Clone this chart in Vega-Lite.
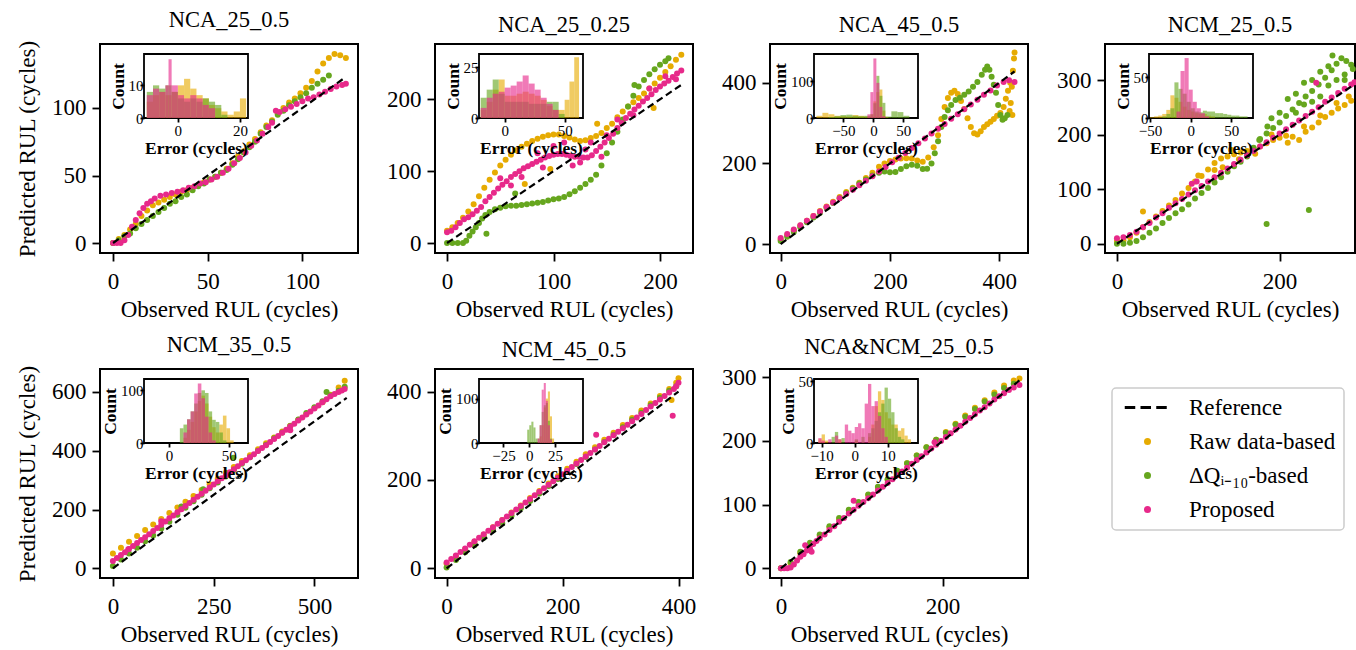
{
"$schema":"https://vega.github.io/schema/vega-lite/v6.json",
"background":"white",
"padding":{"left":15,"top":8,"right":0,"bottom":0},
"config":{
 "font":"Liberation Serif",
 "view":{"stroke":"black","strokeWidth":2},
 "axis":{"domain":false,"grid":false,"tickColor":"black","tickWidth":1.8,"tickSize":8,"labelFont":"Liberation Serif","labelFontSize":23,"labelColor":"black","titleFont":"Liberation Serif","titleFontSize":23,"titleFontWeight":"normal","titleColor":"black","labelFlush":false,"labelOverlap":false},
 "axisX":{"labelPadding":9,"titlePadding":5},
 "axisY":{"labelPadding":6,"titlePadding":12},
 "title":{"font":"Liberation Serif","fontSize":22.5,"fontWeight":"normal","color":"black","offset":8},
 "legend":{"labelFont":"Liberation Serif","labelFontSize":23,"labelColor":"black","symbolSize":49,"padding":8,"rowPadding":10,"strokeColor":"#cccccc","strokeWidth":1.5,"fillColor":"white","cornerRadius":4,"symbolOffset":16,"labelOffset":30,"symbolStrokeWidth":0,"labelLimit":300}
},
"datasets":{
"s1":[
{"s":"R","x":0,"y":0},{"s":"R","x":3,"y":3},{"s":"R","x":6,"y":6},{"s":"R","x":9,"y":10},{"s":"R","x":12,"y":14},{"s":"R","x":15,"y":20},{"s":"R","x":18,"y":24},{"s":"R","x":21,"y":28},{"s":"R","x":24,"y":30},{"s":"R","x":27,"y":32},{"s":"R","x":30,"y":34},{"s":"R","x":33,"y":36},{"s":"R","x":36,"y":38},{"s":"R","x":39,"y":39},{"s":"R","x":42,"y":41},{"s":"R","x":45,"y":43},{"s":"R","x":48,"y":45},{"s":"R","x":51,"y":47},{"s":"R","x":54,"y":49},{"s":"R","x":57,"y":52},{"s":"R","x":60,"y":55},{"s":"R","x":63,"y":59},{"s":"R","x":66,"y":64},{"s":"R","x":69,"y":68},{"s":"R","x":72,"y":73},{"s":"R","x":75,"y":77},{"s":"R","x":78,"y":82},{"s":"R","x":81,"y":87},{"s":"R","x":84,"y":91},{"s":"R","x":87,"y":96},{"s":"R","x":90,"y":100},{"s":"R","x":93,"y":104},{"s":"R","x":96,"y":107},{"s":"R","x":99,"y":111},{"s":"R","x":102,"y":115},{"s":"R","x":105,"y":120},{"s":"R","x":108,"y":127},{"s":"R","x":111,"y":133},{"s":"R","x":114,"y":137},{"s":"R","x":117,"y":140},{"s":"R","x":120,"y":139},{"s":"R","x":123,"y":137},
{"s":"D","x":0,"y":0},{"s":"D","x":3,"y":2},{"s":"D","x":6,"y":5},{"s":"D","x":9,"y":7},{"s":"D","x":12,"y":11},{"s":"D","x":15,"y":14},{"s":"D","x":18,"y":17},{"s":"D","x":21,"y":20},{"s":"D","x":24,"y":23},{"s":"D","x":27,"y":26},{"s":"D","x":30,"y":29},{"s":"D","x":33,"y":31},{"s":"D","x":36,"y":34},{"s":"D","x":39,"y":36},{"s":"D","x":42,"y":39},{"s":"D","x":45,"y":42},{"s":"D","x":48,"y":44},{"s":"D","x":51,"y":47},{"s":"D","x":54,"y":49},{"s":"D","x":57,"y":52},{"s":"D","x":60,"y":54},{"s":"D","x":63,"y":58},{"s":"D","x":66,"y":62},{"s":"D","x":69,"y":67},{"s":"D","x":72,"y":71},{"s":"D","x":75,"y":75},{"s":"D","x":78,"y":81},{"s":"D","x":81,"y":86},{"s":"D","x":84,"y":90},{"s":"D","x":87,"y":95},{"s":"D","x":90,"y":98},{"s":"D","x":93,"y":102},{"s":"D","x":96,"y":105},{"s":"D","x":99,"y":108},{"s":"D","x":102,"y":111},{"s":"D","x":105,"y":115},{"s":"D","x":108,"y":118},{"s":"D","x":111,"y":121},{"s":"D","x":114,"y":124},
{"s":"P","x":0,"y":0},{"s":"P","x":2,"y":0},{"s":"P","x":4,"y":0},{"s":"P","x":6,"y":2},{"s":"P","x":8,"y":6},{"s":"P","x":10,"y":12},{"s":"P","x":12,"y":17},{"s":"P","x":14,"y":22},{"s":"P","x":16,"y":26},{"s":"P","x":18,"y":29},{"s":"P","x":20,"y":31},{"s":"P","x":22,"y":33},{"s":"P","x":25,"y":35},{"s":"P","x":28,"y":36},{"s":"P","x":31,"y":37},{"s":"P","x":34,"y":38},{"s":"P","x":37,"y":39},{"s":"P","x":40,"y":41},{"s":"P","x":43,"y":42},{"s":"P","x":46,"y":44},{"s":"P","x":49,"y":45},{"s":"P","x":52,"y":47},{"s":"P","x":55,"y":49},{"s":"P","x":58,"y":52},{"s":"P","x":61,"y":55},{"s":"P","x":64,"y":59},{"s":"P","x":67,"y":63},{"s":"P","x":70,"y":67},{"s":"P","x":73,"y":72},{"s":"P","x":76,"y":76},{"s":"P","x":79,"y":81},{"s":"P","x":82,"y":86},{"s":"P","x":84,"y":89},{"s":"P","x":86,"y":98},{"s":"P","x":88,"y":97},{"s":"P","x":91,"y":99},{"s":"P","x":94,"y":101},{"s":"P","x":97,"y":103},{"s":"P","x":100,"y":105},{"s":"P","x":103,"y":107},{"s":"P","x":106,"y":108},{"s":"P","x":109,"y":110},{"s":"P","x":112,"y":112},{"s":"P","x":115,"y":114},{"s":"P","x":118,"y":116},{"s":"P","x":121,"y":117},{"s":"P","x":123,"y":118}
],
"s2":[
{"s":"R","x":0,"y":17},{"s":"R","x":5,"y":22},{"s":"R","x":10,"y":28},{"s":"R","x":15,"y":35},{"s":"R","x":20,"y":44},{"s":"R","x":25,"y":54},{"s":"R","x":30,"y":65},{"s":"R","x":35,"y":77},{"s":"R","x":40,"y":88},{"s":"R","x":45,"y":98},{"s":"R","x":50,"y":108},{"s":"R","x":55,"y":116},{"s":"R","x":60,"y":123},{"s":"R","x":65,"y":129},{"s":"R","x":70,"y":134},{"s":"R","x":75,"y":138},{"s":"R","x":80,"y":142},{"s":"R","x":85,"y":145},{"s":"R","x":90,"y":148},{"s":"R","x":95,"y":150},{"s":"R","x":100,"y":151},{"s":"R","x":105,"y":151},{"s":"R","x":110,"y":149},{"s":"R","x":115,"y":147},{"s":"R","x":120,"y":144},{"s":"R","x":125,"y":142},{"s":"R","x":130,"y":143},{"s":"R","x":135,"y":146},{"s":"R","x":140,"y":149},{"s":"R","x":145,"y":153},{"s":"R","x":150,"y":160},{"s":"R","x":155,"y":166},{"s":"R","x":160,"y":175},{"s":"R","x":165,"y":183},{"s":"R","x":170,"y":190},{"s":"R","x":175,"y":196},{"s":"R","x":180,"y":202},{"s":"R","x":185,"y":208},{"s":"R","x":190,"y":215},{"s":"R","x":195,"y":222},{"s":"R","x":200,"y":230},{"s":"R","x":205,"y":238},{"s":"R","x":210,"y":246},{"s":"R","x":215,"y":255},{"s":"R","x":220,"y":262},{"s":"R","x":73,"y":82},{"s":"R","x":97,"y":103},{"s":"R","x":141,"y":166},{"s":"R","x":194,"y":188},
{"s":"D","x":0,"y":0},{"s":"D","x":5,"y":0},{"s":"D","x":10,"y":0},{"s":"D","x":15,"y":0},{"s":"D","x":18,"y":3},{"s":"D","x":21,"y":10},{"s":"D","x":24,"y":16},{"s":"D","x":27,"y":22},{"s":"D","x":30,"y":28},{"s":"D","x":33,"y":34},{"s":"D","x":36,"y":39},{"s":"D","x":40,"y":43},{"s":"D","x":45,"y":47},{"s":"D","x":50,"y":49},{"s":"D","x":55,"y":51},{"s":"D","x":60,"y":52},{"s":"D","x":65,"y":52},{"s":"D","x":70,"y":53},{"s":"D","x":75,"y":54},{"s":"D","x":80,"y":55},{"s":"D","x":85,"y":56},{"s":"D","x":90,"y":57},{"s":"D","x":95,"y":59},{"s":"D","x":100,"y":61},{"s":"D","x":105,"y":62},{"s":"D","x":110,"y":64},{"s":"D","x":115,"y":68},{"s":"D","x":120,"y":72},{"s":"D","x":125,"y":77},{"s":"D","x":130,"y":82},{"s":"D","x":135,"y":88},{"s":"D","x":140,"y":95},{"s":"D","x":145,"y":108},{"s":"D","x":150,"y":125},{"s":"D","x":155,"y":140},{"s":"D","x":160,"y":155},{"s":"D","x":165,"y":172},{"s":"D","x":170,"y":190},{"s":"D","x":175,"y":205},{"s":"D","x":180,"y":218},{"s":"D","x":185,"y":227},{"s":"D","x":190,"y":235},{"s":"D","x":195,"y":242},{"s":"D","x":200,"y":248},{"s":"D","x":205,"y":253},{"s":"D","x":208,"y":257},{"s":"D","x":37,"y":13},{"s":"D","x":64,"y":69},{"s":"D","x":176,"y":220},
{"s":"P","x":0,"y":15},{"s":"P","x":4,"y":17},{"s":"P","x":8,"y":22},{"s":"P","x":12,"y":28},{"s":"P","x":16,"y":33},{"s":"P","x":20,"y":36},{"s":"P","x":24,"y":40},{"s":"P","x":28,"y":45},{"s":"P","x":32,"y":50},{"s":"P","x":36,"y":58},{"s":"P","x":40,"y":64},{"s":"P","x":44,"y":70},{"s":"P","x":48,"y":76},{"s":"P","x":52,"y":81},{"s":"P","x":56,"y":86},{"s":"P","x":60,"y":92},{"s":"P","x":64,"y":96},{"s":"P","x":68,"y":100},{"s":"P","x":72,"y":104},{"s":"P","x":76,"y":107},{"s":"P","x":80,"y":110},{"s":"P","x":84,"y":113},{"s":"P","x":88,"y":116},{"s":"P","x":92,"y":119},{"s":"P","x":96,"y":121},{"s":"P","x":100,"y":123},{"s":"P","x":104,"y":124},{"s":"P","x":108,"y":124},{"s":"P","x":112,"y":123},{"s":"P","x":116,"y":121},{"s":"P","x":120,"y":120},{"s":"P","x":124,"y":120},{"s":"P","x":128,"y":119},{"s":"P","x":132,"y":119},{"s":"P","x":136,"y":122},{"s":"P","x":140,"y":128},{"s":"P","x":144,"y":134},{"s":"P","x":148,"y":140},{"s":"P","x":152,"y":146},{"s":"P","x":156,"y":152},{"s":"P","x":160,"y":160},{"s":"P","x":164,"y":167},{"s":"P","x":168,"y":174},{"s":"P","x":172,"y":180},{"s":"P","x":176,"y":186},{"s":"P","x":180,"y":191},{"s":"P","x":184,"y":197},{"s":"P","x":188,"y":202},{"s":"P","x":192,"y":207},{"s":"P","x":196,"y":213},{"s":"P","x":200,"y":218},{"s":"P","x":204,"y":222},{"s":"P","x":208,"y":226},{"s":"P","x":212,"y":231},{"s":"P","x":216,"y":236},{"s":"P","x":220,"y":240},{"s":"P","x":50,"y":90},{"s":"P","x":70,"y":92},{"s":"P","x":85,"y":125},{"s":"P","x":100,"y":135},{"s":"P","x":118,"y":108},{"s":"P","x":130,"y":130},{"s":"P","x":145,"y":120},{"s":"P","x":160,"y":172},{"s":"P","x":175,"y":178},{"s":"P","x":190,"y":215},{"s":"P","x":205,"y":232},{"s":"P","x":215,"y":228},{"s":"P","x":110,"y":140},{"s":"P","x":125,"y":112},{"s":"P","x":60,"y":80},{"s":"P","x":90,"y":105},{"s":"P","x":150,"y":150},{"s":"P","x":135,"y":140}
],
"s3":[
{"s":"R","x":0,"y":12},{"s":"R","x":12,"y":22},{"s":"R","x":24,"y":34},{"s":"R","x":36,"y":46},{"s":"R","x":48,"y":58},{"s":"R","x":60,"y":70},{"s":"R","x":72,"y":82},{"s":"R","x":84,"y":93},{"s":"R","x":96,"y":105},{"s":"R","x":108,"y":117},{"s":"R","x":120,"y":129},{"s":"R","x":132,"y":140},{"s":"R","x":144,"y":152},{"s":"R","x":156,"y":164},{"s":"R","x":168,"y":177},{"s":"R","x":180,"y":192},{"s":"R","x":190,"y":200},{"s":"R","x":200,"y":206},{"s":"R","x":210,"y":210},{"s":"R","x":220,"y":212},{"s":"R","x":230,"y":213},{"s":"R","x":240,"y":212},{"s":"R","x":250,"y":207},{"s":"R","x":260,"y":204},{"s":"R","x":270,"y":215},{"s":"R","x":280,"y":240},{"s":"R","x":288,"y":270},{"s":"R","x":294,"y":310},{"s":"R","x":300,"y":340},{"s":"R","x":306,"y":362},{"s":"R","x":312,"y":375},{"s":"R","x":318,"y":380},{"s":"R","x":324,"y":372},{"s":"R","x":330,"y":355},{"s":"R","x":336,"y":335},{"s":"R","x":342,"y":312},{"s":"R","x":348,"y":290},{"s":"R","x":354,"y":275},{"s":"R","x":360,"y":272},{"s":"R","x":366,"y":280},{"s":"R","x":372,"y":290},{"s":"R","x":378,"y":297},{"s":"R","x":384,"y":303},{"s":"R","x":390,"y":310},{"s":"R","x":396,"y":318},{"s":"R","x":402,"y":325},{"s":"R","x":408,"y":340},{"s":"R","x":412,"y":360},{"s":"R","x":416,"y":380},{"s":"R","x":419,"y":330},{"s":"R","x":421,"y":350},{"s":"R","x":423,"y":390},{"s":"R","x":425,"y":430},{"s":"R","x":427,"y":460},{"s":"R","x":428,"y":475},{"s":"R","x":420,"y":400},{"s":"R","x":424,"y":320},
{"s":"D","x":0,"y":8},{"s":"D","x":12,"y":18},{"s":"D","x":24,"y":30},{"s":"D","x":36,"y":42},{"s":"D","x":48,"y":54},{"s":"D","x":60,"y":66},{"s":"D","x":72,"y":78},{"s":"D","x":84,"y":90},{"s":"D","x":96,"y":102},{"s":"D","x":108,"y":114},{"s":"D","x":120,"y":126},{"s":"D","x":132,"y":138},{"s":"D","x":144,"y":150},{"s":"D","x":156,"y":160},{"s":"D","x":168,"y":170},{"s":"D","x":180,"y":177},{"s":"D","x":190,"y":180},{"s":"D","x":200,"y":178},{"s":"D","x":210,"y":179},{"s":"D","x":220,"y":186},{"s":"D","x":230,"y":193},{"s":"D","x":240,"y":197},{"s":"D","x":250,"y":194},{"s":"D","x":260,"y":186},{"s":"D","x":268,"y":187},{"s":"D","x":276,"y":200},{"s":"D","x":282,"y":225},{"s":"D","x":288,"y":255},{"s":"D","x":294,"y":290},{"s":"D","x":300,"y":315},{"s":"D","x":306,"y":332},{"s":"D","x":312,"y":345},{"s":"D","x":320,"y":357},{"s":"D","x":328,"y":363},{"s":"D","x":336,"y":370},{"s":"D","x":344,"y":378},{"s":"D","x":352,"y":390},{"s":"D","x":360,"y":402},{"s":"D","x":368,"y":420},{"s":"D","x":374,"y":432},{"s":"D","x":378,"y":440},{"s":"D","x":382,"y":432},{"s":"D","x":386,"y":415},{"s":"D","x":390,"y":395},{"s":"D","x":394,"y":375},{"s":"D","x":398,"y":345},{"s":"D","x":402,"y":320},{"s":"D","x":406,"y":308},{"s":"D","x":410,"y":312},{"s":"D","x":415,"y":320},
{"s":"P","x":0,"y":15},{"s":"P","x":12,"y":25},{"s":"P","x":24,"y":36},{"s":"P","x":36,"y":47},{"s":"P","x":48,"y":58},{"s":"P","x":60,"y":70},{"s":"P","x":72,"y":81},{"s":"P","x":84,"y":92},{"s":"P","x":96,"y":103},{"s":"P","x":108,"y":114},{"s":"P","x":120,"y":124},{"s":"P","x":132,"y":135},{"s":"P","x":144,"y":146},{"s":"P","x":156,"y":157},{"s":"P","x":168,"y":168},{"s":"P","x":180,"y":180},{"s":"P","x":192,"y":191},{"s":"P","x":204,"y":203},{"s":"P","x":216,"y":214},{"s":"P","x":228,"y":226},{"s":"P","x":240,"y":238},{"s":"P","x":252,"y":250},{"s":"P","x":264,"y":262},{"s":"P","x":276,"y":274},{"s":"P","x":288,"y":286},{"s":"P","x":300,"y":298},{"s":"P","x":312,"y":311},{"s":"P","x":324,"y":322},{"s":"P","x":336,"y":334},{"s":"P","x":348,"y":346},{"s":"P","x":360,"y":358},{"s":"P","x":372,"y":370},{"s":"P","x":384,"y":381},{"s":"P","x":396,"y":393},{"s":"P","x":408,"y":402},{"s":"P","x":418,"y":406},{"s":"P","x":428,"y":402}
],
"s4":[
{"s":"R","x":0,"y":5},{"s":"R","x":8,"y":6},{"s":"R","x":16,"y":12},{"s":"R","x":24,"y":20},{"s":"R","x":32,"y":30},{"s":"R","x":40,"y":40},{"s":"R","x":48,"y":50},{"s":"R","x":56,"y":60},{"s":"R","x":64,"y":70},{"s":"R","x":72,"y":80},{"s":"R","x":80,"y":92},{"s":"R","x":88,"y":102},{"s":"R","x":96,"y":114},{"s":"R","x":104,"y":124},{"s":"R","x":112,"y":136},{"s":"R","x":120,"y":148},{"s":"R","x":128,"y":156},{"s":"R","x":136,"y":160},{"s":"R","x":144,"y":164},{"s":"R","x":152,"y":167},{"s":"R","x":160,"y":170},{"s":"R","x":168,"y":174},{"s":"R","x":176,"y":178},{"s":"R","x":184,"y":184},{"s":"R","x":192,"y":190},{"s":"R","x":200,"y":194},{"s":"R","x":208,"y":198},{"s":"R","x":216,"y":196},{"s":"R","x":224,"y":190},{"s":"R","x":232,"y":205},{"s":"R","x":240,"y":213},{"s":"R","x":248,"y":222},{"s":"R","x":256,"y":232},{"s":"R","x":264,"y":240},{"s":"R","x":272,"y":248},{"s":"R","x":280,"y":254},{"s":"R","x":288,"y":262},{"s":"R","x":32,"y":59},{"s":"R","x":130,"y":140},{"s":"R","x":150,"y":155},{"s":"R","x":170,"y":165},{"s":"R","x":190,"y":200},{"s":"R","x":210,"y":185},{"s":"R","x":230,"y":215},{"s":"R","x":250,"y":235},{"s":"R","x":270,"y":258},{"s":"R","x":285,"y":270},{"s":"R","x":120,"y":135},{"s":"R","x":100,"y":125},{"s":"R","x":140,"y":172},
{"s":"D","x":0,"y":0},{"s":"D","x":8,"y":0},{"s":"D","x":16,"y":2},{"s":"D","x":24,"y":5},{"s":"D","x":32,"y":12},{"s":"D","x":40,"y":20},{"s":"D","x":48,"y":28},{"s":"D","x":56,"y":38},{"s":"D","x":64,"y":47},{"s":"D","x":72,"y":56},{"s":"D","x":80,"y":63},{"s":"D","x":88,"y":72},{"s":"D","x":96,"y":83},{"s":"D","x":104,"y":93},{"s":"D","x":112,"y":102},{"s":"D","x":120,"y":112},{"s":"D","x":128,"y":122},{"s":"D","x":136,"y":132},{"s":"D","x":144,"y":142},{"s":"D","x":152,"y":150},{"s":"D","x":160,"y":160},{"s":"D","x":168,"y":176},{"s":"D","x":176,"y":192},{"s":"D","x":184,"y":202},{"s":"D","x":192,"y":212},{"s":"D","x":200,"y":222},{"s":"D","x":208,"y":234},{"s":"D","x":216,"y":246},{"s":"D","x":224,"y":258},{"s":"D","x":232,"y":270},{"s":"D","x":240,"y":280},{"s":"D","x":248,"y":292},{"s":"D","x":256,"y":304},{"s":"D","x":264,"y":318},{"s":"D","x":270,"y":330},{"s":"D","x":276,"y":340},{"s":"D","x":282,"y":335},{"s":"D","x":288,"y":328},{"s":"D","x":190,"y":230},{"s":"D","x":200,"y":240},{"s":"D","x":210,"y":265},{"s":"D","x":220,"y":275},{"s":"D","x":230,"y":295},{"s":"D","x":240,"y":300},{"s":"D","x":250,"y":315},{"s":"D","x":260,"y":325},{"s":"D","x":265,"y":345},{"s":"D","x":270,"y":300},{"s":"D","x":280,"y":310},{"s":"D","x":290,"y":320},{"s":"D","x":220,"y":240},{"s":"D","x":240,"y":260},{"s":"D","x":260,"y":290},{"s":"D","x":280,"y":300},{"s":"D","x":250,"y":270},{"s":"D","x":230,"y":255},{"s":"D","x":184,"y":36},{"s":"D","x":236,"y":62},{"s":"D","x":175,"y":190},{"s":"D","x":185,"y":215},
{"s":"P","x":0,"y":10},{"s":"P","x":8,"y":12},{"s":"P","x":16,"y":16},{"s":"P","x":24,"y":22},{"s":"P","x":32,"y":30},{"s":"P","x":40,"y":38},{"s":"P","x":48,"y":48},{"s":"P","x":56,"y":56},{"s":"P","x":64,"y":66},{"s":"P","x":72,"y":74},{"s":"P","x":80,"y":82},{"s":"P","x":88,"y":90},{"s":"P","x":96,"y":98},{"s":"P","x":104,"y":106},{"s":"P","x":112,"y":114},{"s":"P","x":120,"y":122},{"s":"P","x":128,"y":130},{"s":"P","x":136,"y":138},{"s":"P","x":144,"y":146},{"s":"P","x":152,"y":154},{"s":"P","x":160,"y":162},{"s":"P","x":168,"y":170},{"s":"P","x":176,"y":178},{"s":"P","x":184,"y":186},{"s":"P","x":192,"y":194},{"s":"P","x":200,"y":202},{"s":"P","x":208,"y":210},{"s":"P","x":216,"y":218},{"s":"P","x":224,"y":226},{"s":"P","x":232,"y":234},{"s":"P","x":240,"y":242},{"s":"P","x":248,"y":250},{"s":"P","x":256,"y":260},{"s":"P","x":264,"y":268},{"s":"P","x":272,"y":276},{"s":"P","x":280,"y":284},{"s":"P","x":288,"y":292},{"s":"P","x":292,"y":296},{"s":"P","x":92,"y":110},{"s":"P","x":98,"y":114},{"s":"P","x":245,"y":295}
],
"s5":[
{"s":"R","x":0,"y":50},{"s":"R","x":20,"y":70},{"s":"R","x":40,"y":90},{"s":"R","x":60,"y":110},{"s":"R","x":80,"y":130},{"s":"R","x":100,"y":149},{"s":"R","x":120,"y":168},{"s":"R","x":140,"y":188},{"s":"R","x":160,"y":207},{"s":"R","x":180,"y":226},{"s":"R","x":200,"y":246},{"s":"R","x":220,"y":266},{"s":"R","x":240,"y":286},{"s":"R","x":260,"y":305},{"s":"R","x":280,"y":325},{"s":"R","x":300,"y":345},{"s":"R","x":320,"y":365},{"s":"R","x":340,"y":385},{"s":"R","x":360,"y":405},{"s":"R","x":380,"y":425},{"s":"R","x":400,"y":445},{"s":"R","x":420,"y":465},{"s":"R","x":440,"y":485},{"s":"R","x":460,"y":505},{"s":"R","x":480,"y":525},{"s":"R","x":500,"y":545},{"s":"R","x":520,"y":565},{"s":"R","x":540,"y":590},{"s":"R","x":560,"y":615},{"s":"R","x":575,"y":638},
{"s":"D","x":0,"y":8},{"s":"D","x":20,"y":30},{"s":"D","x":40,"y":50},{"s":"D","x":60,"y":70},{"s":"D","x":80,"y":92},{"s":"D","x":100,"y":112},{"s":"D","x":120,"y":135},{"s":"D","x":140,"y":158},{"s":"D","x":160,"y":182},{"s":"D","x":180,"y":206},{"s":"D","x":200,"y":228},{"s":"D","x":220,"y":250},{"s":"D","x":240,"y":272},{"s":"D","x":260,"y":292},{"s":"D","x":280,"y":312},{"s":"D","x":300,"y":334},{"s":"D","x":320,"y":356},{"s":"D","x":340,"y":378},{"s":"D","x":360,"y":400},{"s":"D","x":380,"y":420},{"s":"D","x":400,"y":442},{"s":"D","x":420,"y":462},{"s":"D","x":440,"y":484},{"s":"D","x":460,"y":506},{"s":"D","x":480,"y":528},{"s":"D","x":500,"y":548},{"s":"D","x":520,"y":568},{"s":"D","x":540,"y":588},{"s":"D","x":560,"y":604},{"s":"D","x":575,"y":618},{"s":"D","x":224,"y":269},{"s":"D","x":299,"y":376},{"s":"D","x":530,"y":600},{"s":"D","x":170,"y":210},
{"s":"P","x":0,"y":25},{"s":"P","x":10,"y":35},{"s":"P","x":20,"y":45},{"s":"P","x":30,"y":55},{"s":"P","x":40,"y":66},{"s":"P","x":50,"y":76},{"s":"P","x":60,"y":86},{"s":"P","x":70,"y":96},{"s":"P","x":80,"y":106},{"s":"P","x":90,"y":116},{"s":"P","x":100,"y":127},{"s":"P","x":110,"y":137},{"s":"P","x":120,"y":148},{"s":"P","x":130,"y":159},{"s":"P","x":140,"y":170},{"s":"P","x":150,"y":180},{"s":"P","x":160,"y":191},{"s":"P","x":170,"y":201},{"s":"P","x":180,"y":212},{"s":"P","x":190,"y":222},{"s":"P","x":200,"y":233},{"s":"P","x":210,"y":243},{"s":"P","x":220,"y":254},{"s":"P","x":230,"y":264},{"s":"P","x":240,"y":275},{"s":"P","x":250,"y":285},{"s":"P","x":260,"y":296},{"s":"P","x":270,"y":306},{"s":"P","x":280,"y":316},{"s":"P","x":290,"y":327},{"s":"P","x":300,"y":337},{"s":"P","x":310,"y":347},{"s":"P","x":320,"y":358},{"s":"P","x":330,"y":368},{"s":"P","x":340,"y":378},{"s":"P","x":350,"y":388},{"s":"P","x":360,"y":399},{"s":"P","x":370,"y":409},{"s":"P","x":380,"y":419},{"s":"P","x":390,"y":430},{"s":"P","x":400,"y":440},{"s":"P","x":410,"y":450},{"s":"P","x":420,"y":461},{"s":"P","x":430,"y":471},{"s":"P","x":440,"y":482},{"s":"P","x":450,"y":492},{"s":"P","x":460,"y":503},{"s":"P","x":470,"y":513},{"s":"P","x":480,"y":523},{"s":"P","x":490,"y":533},{"s":"P","x":500,"y":544},{"s":"P","x":510,"y":554},{"s":"P","x":520,"y":565},{"s":"P","x":530,"y":575},{"s":"P","x":540,"y":585},{"s":"P","x":550,"y":593},{"s":"P","x":560,"y":600},{"s":"P","x":568,"y":605},{"s":"P","x":575,"y":610},{"s":"P","x":38,"y":65},{"s":"P","x":120,"y":160},{"s":"P","x":440,"y":470}
],
"s6":[
{"s":"R","x":0,"y":10},{"s":"R","x":16,"y":27},{"s":"R","x":32,"y":43},{"s":"R","x":48,"y":60},{"s":"R","x":64,"y":76},{"s":"R","x":80,"y":93},{"s":"R","x":96,"y":109},{"s":"R","x":112,"y":126},{"s":"R","x":128,"y":142},{"s":"R","x":144,"y":159},{"s":"R","x":160,"y":175},{"s":"R","x":176,"y":192},{"s":"R","x":192,"y":208},{"s":"R","x":208,"y":225},{"s":"R","x":224,"y":241},{"s":"R","x":240,"y":258},{"s":"R","x":256,"y":274},{"s":"R","x":272,"y":291},{"s":"R","x":288,"y":307},{"s":"R","x":304,"y":324},{"s":"R","x":320,"y":340},{"s":"R","x":336,"y":357},{"s":"R","x":352,"y":373},{"s":"R","x":368,"y":390},{"s":"R","x":384,"y":406},{"s":"R","x":396,"y":420},{"s":"R","x":400,"y":430},{"s":"R","x":388,"y":381},
{"s":"D","x":0,"y":2},{"s":"D","x":16,"y":19},{"s":"D","x":32,"y":36},{"s":"D","x":48,"y":52},{"s":"D","x":64,"y":69},{"s":"D","x":80,"y":86},{"s":"D","x":96,"y":102},{"s":"D","x":112,"y":119},{"s":"D","x":128,"y":136},{"s":"D","x":144,"y":152},{"s":"D","x":160,"y":169},{"s":"D","x":176,"y":186},{"s":"D","x":192,"y":202},{"s":"D","x":208,"y":219},{"s":"D","x":224,"y":236},{"s":"D","x":240,"y":252},{"s":"D","x":256,"y":269},{"s":"D","x":272,"y":286},{"s":"D","x":288,"y":302},{"s":"D","x":304,"y":319},{"s":"D","x":320,"y":336},{"s":"D","x":336,"y":352},{"s":"D","x":352,"y":369},{"s":"D","x":368,"y":386},{"s":"D","x":384,"y":402},{"s":"D","x":396,"y":412},
{"s":"P","x":0,"y":13},{"s":"P","x":8,"y":21},{"s":"P","x":16,"y":29},{"s":"P","x":24,"y":37},{"s":"P","x":32,"y":45},{"s":"P","x":40,"y":53},{"s":"P","x":48,"y":61},{"s":"P","x":56,"y":69},{"s":"P","x":64,"y":77},{"s":"P","x":72,"y":85},{"s":"P","x":80,"y":93},{"s":"P","x":88,"y":101},{"s":"P","x":96,"y":109},{"s":"P","x":104,"y":117},{"s":"P","x":112,"y":125},{"s":"P","x":120,"y":133},{"s":"P","x":128,"y":141},{"s":"P","x":136,"y":149},{"s":"P","x":144,"y":157},{"s":"P","x":152,"y":165},{"s":"P","x":160,"y":173},{"s":"P","x":168,"y":181},{"s":"P","x":176,"y":189},{"s":"P","x":184,"y":197},{"s":"P","x":192,"y":205},{"s":"P","x":200,"y":213},{"s":"P","x":208,"y":221},{"s":"P","x":216,"y":229},{"s":"P","x":224,"y":237},{"s":"P","x":232,"y":245},{"s":"P","x":240,"y":253},{"s":"P","x":248,"y":261},{"s":"P","x":256,"y":269},{"s":"P","x":264,"y":277},{"s":"P","x":272,"y":285},{"s":"P","x":280,"y":293},{"s":"P","x":288,"y":301},{"s":"P","x":296,"y":309},{"s":"P","x":304,"y":317},{"s":"P","x":312,"y":325},{"s":"P","x":320,"y":333},{"s":"P","x":328,"y":341},{"s":"P","x":336,"y":349},{"s":"P","x":344,"y":358},{"s":"P","x":352,"y":366},{"s":"P","x":360,"y":374},{"s":"P","x":368,"y":382},{"s":"P","x":376,"y":390},{"s":"P","x":384,"y":398},{"s":"P","x":392,"y":406},{"s":"P","x":396,"y":412},{"s":"P","x":400,"y":420},{"s":"P","x":258,"y":302},{"s":"P","x":390,"y":345}
],
"s7":[
{"s":"R","x":0,"y":0},{"s":"R","x":12,"y":8},{"s":"R","x":24,"y":24},{"s":"R","x":36,"y":38},{"s":"R","x":48,"y":51},{"s":"R","x":60,"y":64},{"s":"R","x":72,"y":77},{"s":"R","x":84,"y":91},{"s":"R","x":96,"y":103},{"s":"R","x":108,"y":115},{"s":"R","x":120,"y":127},{"s":"R","x":132,"y":139},{"s":"R","x":144,"y":152},{"s":"R","x":156,"y":165},{"s":"R","x":168,"y":177},{"s":"R","x":180,"y":190},{"s":"R","x":192,"y":202},{"s":"R","x":204,"y":214},{"s":"R","x":216,"y":227},{"s":"R","x":228,"y":240},{"s":"R","x":240,"y":252},{"s":"R","x":252,"y":264},{"s":"R","x":264,"y":276},{"s":"R","x":276,"y":287},{"s":"R","x":288,"y":295},{"s":"R","x":295,"y":298},
{"s":"D","x":0,"y":0},{"s":"D","x":12,"y":10},{"s":"D","x":24,"y":26},{"s":"D","x":36,"y":40},{"s":"D","x":48,"y":53},{"s":"D","x":60,"y":66},{"s":"D","x":72,"y":79},{"s":"D","x":84,"y":92},{"s":"D","x":96,"y":104},{"s":"D","x":108,"y":116},{"s":"D","x":120,"y":128},{"s":"D","x":132,"y":140},{"s":"D","x":144,"y":153},{"s":"D","x":156,"y":165},{"s":"D","x":168,"y":177},{"s":"D","x":180,"y":190},{"s":"D","x":192,"y":202},{"s":"D","x":204,"y":213},{"s":"D","x":216,"y":226},{"s":"D","x":228,"y":238},{"s":"D","x":240,"y":250},{"s":"D","x":252,"y":262},{"s":"D","x":264,"y":273},{"s":"D","x":276,"y":283},{"s":"D","x":288,"y":290},
{"s":"P","x":0,"y":0},{"s":"P","x":4,"y":0},{"s":"P","x":8,"y":0},{"s":"P","x":12,"y":1},{"s":"P","x":16,"y":6},{"s":"P","x":20,"y":12},{"s":"P","x":24,"y":18},{"s":"P","x":28,"y":22},{"s":"P","x":32,"y":28},{"s":"P","x":36,"y":31},{"s":"P","x":40,"y":38},{"s":"P","x":44,"y":43},{"s":"P","x":48,"y":47},{"s":"P","x":54,"y":53},{"s":"P","x":60,"y":60},{"s":"P","x":66,"y":66},{"s":"P","x":72,"y":73},{"s":"P","x":78,"y":79},{"s":"P","x":84,"y":86},{"s":"P","x":90,"y":106},{"s":"P","x":90,"y":92},{"s":"P","x":96,"y":98},{"s":"P","x":102,"y":104},{"s":"P","x":108,"y":110},{"s":"P","x":114,"y":116},{"s":"P","x":120,"y":122},{"s":"P","x":126,"y":128},{"s":"P","x":132,"y":134},{"s":"P","x":138,"y":140},{"s":"P","x":144,"y":146},{"s":"P","x":150,"y":152},{"s":"P","x":156,"y":158},{"s":"P","x":162,"y":164},{"s":"P","x":168,"y":170},{"s":"P","x":174,"y":176},{"s":"P","x":180,"y":182},{"s":"P","x":186,"y":188},{"s":"P","x":190,"y":198},{"s":"P","x":192,"y":194},{"s":"P","x":198,"y":200},{"s":"P","x":204,"y":206},{"s":"P","x":210,"y":212},{"s":"P","x":216,"y":218},{"s":"P","x":222,"y":224},{"s":"P","x":228,"y":230},{"s":"P","x":234,"y":236},{"s":"P","x":240,"y":242},{"s":"P","x":246,"y":248},{"s":"P","x":252,"y":253},{"s":"P","x":258,"y":259},{"s":"P","x":264,"y":265},{"s":"P","x":270,"y":270},{"s":"P","x":276,"y":275},{"s":"P","x":282,"y":280},{"s":"P","x":288,"y":284},{"s":"P","x":295,"y":288},{"s":"P","x":38,"y":26},{"s":"P","x":30,"y":36}
],
"h1":[
{"s":"R","a":-10,"b":-8,"c":5},{"s":"R","a":-8,"b":-6,"c":7},{"s":"R","a":-6,"b":-4,"c":8},{"s":"R","a":-4,"b":-2,"c":7},{"s":"R","a":-2,"b":0,"c":8},{"s":"R","a":0,"b":2,"c":10},{"s":"R","a":2,"b":4,"c":12},{"s":"R","a":4,"b":6,"c":9},{"s":"R","a":6,"b":8,"c":7},{"s":"R","a":8,"b":10,"c":6},{"s":"R","a":10,"b":12,"c":4},{"s":"R","a":12,"b":14,"c":3},{"s":"R","a":14,"b":16,"c":2},{"s":"R","a":16,"b":18,"c":1},{"s":"R","a":18,"b":20,"c":2},{"s":"R","a":20,"b":22,"c":6},
{"s":"D","a":-10,"b":-8,"c":8},{"s":"D","a":-8,"b":-6,"c":10},{"s":"D","a":-6,"b":-4,"c":9},{"s":"D","a":-4,"b":-2,"c":10},{"s":"D","a":-2,"b":0,"c":8},{"s":"D","a":0,"b":2,"c":6},{"s":"D","a":2,"b":4,"c":5},{"s":"D","a":4,"b":6,"c":6},{"s":"D","a":6,"b":8,"c":5},{"s":"D","a":8,"b":10,"c":6},{"s":"D","a":10,"b":12,"c":5},{"s":"D","a":12,"b":14,"c":4},{"s":"D","a":14,"b":16,"c":1},
{"s":"P","a":-10,"b":-8,"c":7},{"s":"P","a":-8,"b":-6,"c":9},{"s":"P","a":-6,"b":-4,"c":8},{"s":"P","a":-4,"b":-3,"c":10},{"s":"P","a":-3,"b":-2,"c":18},{"s":"P","a":-2,"b":0,"c":10},{"s":"P","a":0,"b":2,"c":7},{"s":"P","a":2,"b":4,"c":6},{"s":"P","a":4,"b":6,"c":7},{"s":"P","a":6,"b":8,"c":6},{"s":"P","a":8,"b":10,"c":4},{"s":"P","a":10,"b":12,"c":3}
],
"h2":[
{"s":"R","a":-20,"b":-15,"c":4},{"s":"R","a":-15,"b":-10,"c":8},{"s":"R","a":-10,"b":-5,"c":14},{"s":"R","a":-5,"b":0,"c":19},{"s":"R","a":0,"b":5,"c":11},{"s":"R","a":5,"b":10,"c":11},{"s":"R","a":10,"b":15,"c":12},{"s":"R","a":15,"b":20,"c":13},{"s":"R","a":20,"b":25,"c":12},{"s":"R","a":25,"b":30,"c":11},{"s":"R","a":30,"b":35,"c":9},{"s":"R","a":35,"b":40,"c":6},{"s":"R","a":40,"b":45,"c":4},{"s":"R","a":45,"b":50,"c":4},{"s":"R","a":50,"b":54,"c":9},{"s":"R","a":54,"b":58,"c":18},{"s":"R","a":58,"b":62,"c":30},
{"s":"D","a":-20,"b":-15,"c":10},{"s":"D","a":-15,"b":-10,"c":14},{"s":"D","a":-10,"b":-5,"c":19},{"s":"D","a":-5,"b":0,"c":12},{"s":"D","a":0,"b":5,"c":8},{"s":"D","a":5,"b":10,"c":8},{"s":"D","a":10,"b":15,"c":8},{"s":"D","a":15,"b":20,"c":8},{"s":"D","a":20,"b":25,"c":7},{"s":"D","a":25,"b":30,"c":7},{"s":"D","a":30,"b":35,"c":7},{"s":"D","a":35,"b":40,"c":8},{"s":"D","a":40,"b":45,"c":8},{"s":"D","a":45,"b":50,"c":2},
{"s":"P","a":-20,"b":-15,"c":5},{"s":"P","a":-15,"b":-10,"c":10},{"s":"P","a":-10,"b":-5,"c":12},{"s":"P","a":-5,"b":0,"c":13},{"s":"P","a":0,"b":5,"c":15},{"s":"P","a":5,"b":10,"c":16},{"s":"P","a":10,"b":15,"c":18},{"s":"P","a":15,"b":20,"c":21},{"s":"P","a":20,"b":25,"c":17},{"s":"P","a":25,"b":30,"c":14},{"s":"P","a":30,"b":35,"c":10},{"s":"P","a":35,"b":40,"c":7},{"s":"P","a":40,"b":45,"c":4}
],
"h3":[
{"s":"R","a":-95,"b":-85,"c":6},{"s":"R","a":-85,"b":-75,"c":14},{"s":"R","a":-75,"b":-65,"c":10},{"s":"R","a":-65,"b":-55,"c":6},{"s":"R","a":-55,"b":-45,"c":5},{"s":"R","a":-45,"b":-35,"c":4},{"s":"R","a":-35,"b":-25,"c":8},{"s":"R","a":-25,"b":-15,"c":6},{"s":"R","a":-15,"b":-5,"c":4},{"s":"R","a":-5,"b":0,"c":10},{"s":"R","a":0,"b":5,"c":45},{"s":"R","a":5,"b":10,"c":70},{"s":"R","a":10,"b":15,"c":77},{"s":"R","a":15,"b":20,"c":20},{"s":"R","a":20,"b":25,"c":3},
{"s":"D","a":-75,"b":-65,"c":3},{"s":"D","a":-65,"b":-55,"c":5},{"s":"D","a":-55,"b":-45,"c":8},{"s":"D","a":-45,"b":-35,"c":9},{"s":"D","a":-35,"b":-25,"c":6},{"s":"D","a":-25,"b":-15,"c":5},{"s":"D","a":-15,"b":-5,"c":6},{"s":"D","a":-5,"b":0,"c":10},{"s":"D","a":0,"b":5,"c":40},{"s":"D","a":5,"b":10,"c":114},{"s":"D","a":10,"b":15,"c":60},{"s":"D","a":15,"b":20,"c":41},{"s":"D","a":20,"b":30,"c":4},{"s":"D","a":30,"b":40,"c":18},{"s":"D","a":40,"b":50,"c":16},{"s":"D","a":50,"b":60,"c":6},
{"s":"P","a":-10,"b":-5,"c":10},{"s":"P","a":-5,"b":0,"c":70},{"s":"P","a":0,"b":5,"c":161},{"s":"P","a":5,"b":10,"c":95},{"s":"P","a":10,"b":15,"c":30},{"s":"P","a":15,"b":20,"c":5}
],
"h4":[
{"s":"R","a":-50,"b":-45,"c":1},{"s":"R","a":-45,"b":-40,"c":2},{"s":"R","a":-40,"b":-35,"c":3},{"s":"R","a":-35,"b":-30,"c":5},{"s":"R","a":-30,"b":-25,"c":10},{"s":"R","a":-25,"b":-20,"c":28},{"s":"R","a":-20,"b":-15,"c":25},{"s":"R","a":-15,"b":-10,"c":20},{"s":"R","a":-10,"b":-5,"c":14},{"s":"R","a":-5,"b":0,"c":10},{"s":"R","a":0,"b":5,"c":8},{"s":"R","a":5,"b":10,"c":6},{"s":"R","a":10,"b":15,"c":5},{"s":"R","a":15,"b":20,"c":5},{"s":"R","a":20,"b":25,"c":3},{"s":"R","a":25,"b":30,"c":2},
{"s":"D","a":-35,"b":-30,"c":2},{"s":"D","a":-30,"b":-25,"c":5},{"s":"D","a":-25,"b":-20,"c":12},{"s":"D","a":-20,"b":-15,"c":44},{"s":"D","a":-15,"b":-10,"c":36},{"s":"D","a":-10,"b":-5,"c":30},{"s":"D","a":-5,"b":0,"c":20},{"s":"D","a":0,"b":5,"c":12},{"s":"D","a":5,"b":10,"c":8},{"s":"D","a":10,"b":15,"c":7},{"s":"D","a":15,"b":20,"c":9},{"s":"D","a":20,"b":25,"c":8},{"s":"D","a":25,"b":30,"c":8},{"s":"D","a":30,"b":35,"c":6},{"s":"D","a":35,"b":40,"c":6},{"s":"D","a":40,"b":45,"c":5},{"s":"D","a":45,"b":50,"c":4},{"s":"D","a":50,"b":55,"c":3},{"s":"D","a":55,"b":60,"c":3},{"s":"D","a":60,"b":65,"c":2},{"s":"D","a":65,"b":70,"c":2},
{"s":"P","a":-17.5,"b":-12.5,"c":8},{"s":"P","a":-12.5,"b":-7.5,"c":58},{"s":"P","a":-7.5,"b":-2.5,"c":74},{"s":"P","a":-2.5,"b":2.5,"c":35},{"s":"P","a":2.5,"b":7.5,"c":20},{"s":"P","a":7.5,"b":12.5,"c":12},{"s":"P","a":12.5,"b":17.5,"c":6},{"s":"P","a":17.5,"b":22.5,"c":2}
],
"h5":[
{"s":"R","a":12,"b":15,"c":10},{"s":"R","a":15,"b":18,"c":25},{"s":"R","a":18,"b":21,"c":40},{"s":"R","a":21,"b":24,"c":60},{"s":"R","a":24,"b":27,"c":80},{"s":"R","a":27,"b":30,"c":90},{"s":"R","a":30,"b":33,"c":75},{"s":"R","a":33,"b":36,"c":50},{"s":"R","a":36,"b":39,"c":30},{"s":"R","a":39,"b":42,"c":20},{"s":"R","a":42,"b":45,"c":35},{"s":"R","a":45,"b":48,"c":52},{"s":"R","a":48,"b":51,"c":28},{"s":"R","a":51,"b":54,"c":5},
{"s":"D","a":9,"b":12,"c":28},{"s":"D","a":12,"b":15,"c":35},{"s":"D","a":15,"b":18,"c":45},{"s":"D","a":18,"b":21,"c":60},{"s":"D","a":21,"b":24,"c":75},{"s":"D","a":24,"b":27,"c":95},{"s":"D","a":27,"b":30,"c":100},{"s":"D","a":30,"b":33,"c":95},{"s":"D","a":33,"b":36,"c":60},{"s":"D","a":36,"b":39,"c":44},{"s":"D","a":39,"b":42,"c":40},{"s":"D","a":42,"b":45,"c":20},{"s":"D","a":45,"b":48,"c":5},
{"s":"P","a":12,"b":15,"c":20},{"s":"P","a":15,"b":18,"c":45},{"s":"P","a":18,"b":21,"c":60},{"s":"P","a":21,"b":24,"c":94},{"s":"P","a":24,"b":27,"c":113},{"s":"P","a":27,"b":30,"c":85},{"s":"P","a":30,"b":33,"c":50},{"s":"P","a":33,"b":36,"c":20},{"s":"P","a":36,"b":39,"c":5}
],
"h6":[
{"s":"R","a":10,"b":12,"c":15},{"s":"R","a":12,"b":14,"c":40},{"s":"R","a":14,"b":16,"c":80},{"s":"R","a":16,"b":18,"c":100},{"s":"R","a":18,"b":20,"c":116},{"s":"R","a":20,"b":22,"c":60},{"s":"R","a":22,"b":24,"c":10},
{"s":"D","a":-2,"b":0,"c":30},{"s":"D","a":0,"b":2,"c":40},{"s":"D","a":2,"b":4,"c":48},{"s":"D","a":4,"b":6,"c":35},{"s":"D","a":6,"b":8,"c":10},{"s":"D","a":8,"b":10,"c":10},{"s":"D","a":10,"b":12,"c":40},{"s":"D","a":12,"b":14,"c":70},{"s":"D","a":14,"b":16,"c":85},{"s":"D","a":16,"b":18,"c":90},{"s":"D","a":18,"b":20,"c":50},{"s":"D","a":20,"b":22,"c":10},
{"s":"P","a":8,"b":10,"c":10},{"s":"P","a":10,"b":12,"c":40},{"s":"P","a":12,"b":14,"c":120},{"s":"P","a":14,"b":16,"c":135},{"s":"P","a":16,"b":18,"c":95},{"s":"P","a":18,"b":20,"c":40},{"s":"P","a":20,"b":22,"c":8}
],
"h7":[
{"s":"R","a":-11,"b":-10,"c":3},{"s":"R","a":-10,"b":-9,"c":7},{"s":"R","a":-9,"b":-8,"c":2},{"s":"R","a":-5,"b":-4,"c":3},{"s":"R","a":0,"b":1,"c":2},{"s":"R","a":4,"b":5,"c":5},{"s":"R","a":5,"b":6,"c":15},{"s":"R","a":6,"b":7,"c":30},{"s":"R","a":7,"b":8,"c":42},{"s":"R","a":8,"b":9,"c":35},{"s":"R","a":9,"b":10,"c":25},{"s":"R","a":10,"b":11,"c":20},{"s":"R","a":11,"b":12,"c":15},{"s":"R","a":12,"b":13,"c":15},{"s":"R","a":13,"b":14,"c":10},{"s":"R","a":14,"b":15,"c":12},{"s":"R","a":15,"b":16,"c":6},{"s":"R","a":16,"b":17,"c":3},
{"s":"D","a":-7,"b":-6,"c":5},{"s":"D","a":-6,"b":-5,"c":9},{"s":"D","a":-4,"b":-3,"c":4},{"s":"D","a":0,"b":1,"c":3},{"s":"D","a":2,"b":3,"c":5},{"s":"D","a":4,"b":5,"c":8},{"s":"D","a":5,"b":6,"c":12},{"s":"D","a":6,"b":7,"c":18},{"s":"D","a":7,"b":8,"c":25},{"s":"D","a":8,"b":9,"c":32},{"s":"D","a":9,"b":10,"c":45},{"s":"D","a":10,"b":11,"c":36},{"s":"D","a":11,"b":12,"c":25},{"s":"D","a":12,"b":13,"c":12},{"s":"D","a":13,"b":14,"c":5},{"s":"D","a":14,"b":15,"c":3},
{"s":"P","a":-11,"b":-10,"c":4},{"s":"P","a":-10,"b":-9,"c":2},{"s":"P","a":-8,"b":-7,"c":3},{"s":"P","a":-6,"b":-5,"c":6},{"s":"P","a":-5,"b":-4,"c":3},{"s":"P","a":-3,"b":-2,"c":15},{"s":"P","a":-2,"b":-1,"c":10},{"s":"P","a":-1,"b":0,"c":8},{"s":"P","a":0,"b":1,"c":13},{"s":"P","a":1,"b":2,"c":16},{"s":"P","a":2,"b":3,"c":12},{"s":"P","a":3,"b":4,"c":32},{"s":"P","a":4,"b":5,"c":48},{"s":"P","a":5,"b":6,"c":30},{"s":"P","a":6,"b":7,"c":34},{"s":"P","a":7,"b":8,"c":22},{"s":"P","a":8,"b":9,"c":12},{"s":"P","a":9,"b":10,"c":5}
]
},
"columns":4,
"spacing":{"row":116,"column":77},
"bounds":"flush",
"concat":[
{"title":"NCA_25_0.5","width":258,"height":209,
 "layer":[
  {"layer":[
   {"data":{"name":"s1"},"mark":{"type":"point","filled":true,"opacity":1,"size":36},
    "encoding":{
     "x":{"field":"x","type":"quantitative","scale":{"domain":[-6.9,129.4],"nice":false,"zero":false},"axis":{"values":[0,50,100],"title":"Observed RUL (cycles)"}},
     "y":{"field":"y","type":"quantitative","scale":{"domain":[-7.4,147.4],"nice":false,"zero":false},"axis":{"values":[0,50,100],"title":"Predicted RUL (cycles)"}},
     "color":{"field":"s","type":"nominal","scale":{"domain":["Ref","R","D","P"],"range":["#000000","#e6ab02","#66a61e","#e7298a"]},"legend":{"orient":"none","legendX":1012,"legendY":344,"title":null,"labelExpr":"datum.label=='Ref'?'Reference':datum.label=='R'?'Raw data-based':datum.label=='D'?'ΔQᵢ₋₁₀-based':'Proposed'"}},
     "shape":{"field":"s","type":"nominal","scale":{"domain":["Ref","R","D","P"],"range":["M-6.5,-0.45H-3.5V0.45H-6.5Z M-2,-0.45H1V0.45H-2Z M2.5,-0.45H5.5V0.45H2.5Z","circle","circle","circle"]},"legend":{"orient":"none","legendX":1012,"legendY":344,"title":null,"labelExpr":"datum.label=='Ref'?'Reference':datum.label=='R'?'Raw data-based':datum.label=='D'?'ΔQᵢ₋₁₀-based':'Proposed'"}}}},
   {"data":{"values":[{}]},"mark":{"type":"rule","color":"black","strokeWidth":2.2,"strokeDash":[7,4]},
    "encoding":{"x":{"datum":0,"type":"quantitative"},"y":{"datum":0,"type":"quantitative"},"x2":{"datum":123},"y2":{"datum":123}}}
  ]},
  {"layer":[
   {"data":{"values":[{}]},"mark":{"type":"rect","fill":"white","stroke":"black","strokeWidth":1.8},
    "encoding":{
     "x":{"datum":-10.9,"type":"quantitative","scale":{"domain":[-10.9,22.6],"range":[44,148],"nice":false,"zero":false},"axis":{"orient":"bottom","offset":-135,"values":[0,20],"title":"Error (cycles)","labelFontSize":15,"titleFontSize":17.5,"titleFontWeight":"bold","tickSize":4,"labelPadding":1,"titlePadding":1,"zindex":1}},
     "x2":{"datum":22.6},
     "y":{"datum":0,"type":"quantitative","scale":{"domain":[0,19.6],"range":[74,10],"nice":false,"zero":false},"axis":{"orient":"left","offset":-44,"values":[0,10],"title":"Count","labelFontSize":15,"titleFontSize":17.5,"titleFontWeight":"bold","tickSize":4,"labelPadding":-3,"titlePadding":1,"zindex":1}},
     "y2":{"datum":19.6}}},
   {"data":{"name":"h1"},"mark":{"type":"rect","opacity":0.62},
    "encoding":{"x":{"field":"a","type":"quantitative"},"x2":{"field":"b"},"y":{"field":"c","type":"quantitative"},"y2":{"datum":0},"color":{"field":"s","type":"nominal","scale":{"domain":["Ref","R","D","P"],"range":["#000000","#e6ab02","#66a61e","#e7298a"]}}}}
  ]}
 ],
 "resolve":{"scale":{"x":"independent","y":"independent"}}},
{"title":"NCA_25_0.25","width":258,"height":209,
 "layer":[
  {"layer":[
   {"data":{"name":"s2"},"mark":{"type":"point","filled":true,"opacity":1,"size":36},
    "encoding":{
     "x":{"field":"x","type":"quantitative","scale":{"domain":[-11.3,231],"nice":false,"zero":false},"axis":{"values":[0,100,200],"title":"Observed RUL (cycles)"}},
     "y":{"field":"y","type":"quantitative","scale":{"domain":[-13.9,277],"nice":false,"zero":false},"axis":{"values":[0,100,200],"title":null}},
     "color":{"field":"s","type":"nominal","scale":{"domain":["Ref","R","D","P"],"range":["#000000","#e6ab02","#66a61e","#e7298a"]}},
     "shape":{"field":"s","type":"nominal","scale":{"domain":["Ref","R","D","P"],"range":["M-6.5,-0.45H-3.5V0.45H-6.5Z M-2,-0.45H1V0.45H-2Z M2.5,-0.45H5.5V0.45H2.5Z","circle","circle","circle"]}}}},
   {"data":{"values":[{}]},"mark":{"type":"rule","color":"black","strokeWidth":2.2,"strokeDash":[7,4]},
    "encoding":{"x":{"datum":0,"type":"quantitative"},"y":{"datum":0,"type":"quantitative"},"x2":{"datum":220},"y2":{"datum":220}}}
  ]},
  {"layer":[
   {"data":{"values":[{}]},"mark":{"type":"rect","fill":"white","stroke":"black","strokeWidth":1.8},
    "encoding":{
     "x":{"datum":-21.4,"type":"quantitative","scale":{"domain":[-21.4,65.3],"range":[44,148],"nice":false,"zero":false},"axis":{"orient":"bottom","offset":-135,"values":[0,50],"title":"Error (cycles)","labelFontSize":15,"titleFontSize":17.5,"titleFontWeight":"bold","tickSize":4,"labelPadding":1,"titlePadding":1,"zindex":1}},
     "x2":{"datum":65.3},
     "y":{"datum":0,"type":"quantitative","scale":{"domain":[0,31.6],"range":[74,10],"nice":false,"zero":false},"axis":{"orient":"left","offset":-44,"values":[0,25],"title":"Count","labelFontSize":15,"titleFontSize":17.5,"titleFontWeight":"bold","tickSize":4,"labelPadding":-3,"titlePadding":1,"zindex":1}},
     "y2":{"datum":31.6}}},
   {"data":{"name":"h2"},"mark":{"type":"rect","opacity":0.62},
    "encoding":{"x":{"field":"a","type":"quantitative"},"x2":{"field":"b"},"y":{"field":"c","type":"quantitative"},"y2":{"datum":0},"color":{"field":"s","type":"nominal","scale":{"domain":["Ref","R","D","P"],"range":["#000000","#e6ab02","#66a61e","#e7298a"]}}}}
  ]}
 ],
 "resolve":{"scale":{"x":"independent","y":"independent"}}},
{"title":"NCA_45_0.5","width":258,"height":209,
 "layer":[
  {"layer":[
   {"data":{"name":"s3"},"mark":{"type":"point","filled":true,"opacity":1,"size":36},
    "encoding":{
     "x":{"field":"x","type":"quantitative","scale":{"domain":[-19.5,452.6],"nice":false,"zero":false},"axis":{"values":[0,200,400],"title":"Observed RUL (cycles)"}},
     "y":{"field":"y","type":"quantitative","scale":{"domain":[-22,496],"nice":false,"zero":false},"axis":{"values":[0,200,400],"title":null}},
     "color":{"field":"s","type":"nominal","scale":{"domain":["Ref","R","D","P"],"range":["#000000","#e6ab02","#66a61e","#e7298a"]}},
     "shape":{"field":"s","type":"nominal","scale":{"domain":["Ref","R","D","P"],"range":["M-6.5,-0.45H-3.5V0.45H-6.5Z M-2,-0.45H1V0.45H-2Z M2.5,-0.45H5.5V0.45H2.5Z","circle","circle","circle"]}}}},
   {"data":{"values":[{}]},"mark":{"type":"rule","color":"black","strokeWidth":2.2,"strokeDash":[7,4]},
    "encoding":{"x":{"datum":0,"type":"quantitative"},"y":{"datum":0,"type":"quantitative"},"x2":{"datum":428},"y2":{"datum":428}}}
  ]},
  {"layer":[
   {"data":{"values":[{}]},"mark":{"type":"rect","fill":"white","stroke":"black","strokeWidth":1.8},
    "encoding":{
     "x":{"datum":-99,"type":"quantitative","scale":{"domain":[-99,74.4],"range":[44,148],"nice":false,"zero":false},"axis":{"orient":"bottom","offset":-135,"values":[-50,0,50],"title":"Error (cycles)","labelFontSize":15,"titleFontSize":17.5,"titleFontWeight":"bold","tickSize":4,"labelPadding":1,"titlePadding":1,"zindex":1}},
     "x2":{"datum":74.4},
     "y":{"datum":0,"type":"quantitative","scale":{"domain":[0,173],"range":[74,10],"nice":false,"zero":false},"axis":{"orient":"left","offset":-44,"values":[0,100],"title":"Count","labelFontSize":15,"titleFontSize":17.5,"titleFontWeight":"bold","tickSize":4,"labelPadding":-3,"titlePadding":1,"zindex":1}},
     "y2":{"datum":173}}},
   {"data":{"name":"h3"},"mark":{"type":"rect","opacity":0.62},
    "encoding":{"x":{"field":"a","type":"quantitative"},"x2":{"field":"b"},"y":{"field":"c","type":"quantitative"},"y2":{"datum":0},"color":{"field":"s","type":"nominal","scale":{"domain":["Ref","R","D","P"],"range":["#000000","#e6ab02","#66a61e","#e7298a"]}}}}
  ]}
 ],
 "resolve":{"scale":{"x":"independent","y":"independent"}}},
{"title":"NCM_25_0.5","width":250,"height":209,
 "layer":[
  {"layer":[
   {"data":{"name":"s4"},"mark":{"type":"point","filled":true,"opacity":1,"size":36},
    "encoding":{
     "x":{"field":"x","type":"quantitative","scale":{"domain":[-14.7,292.7],"nice":false,"zero":false},"axis":{"values":[0,200],"title":"Observed RUL (cycles)"}},
     "y":{"field":"y","type":"quantitative","scale":{"domain":[-17,366],"nice":false,"zero":false},"axis":{"values":[0,100,200,300],"title":null}},
     "color":{"field":"s","type":"nominal","scale":{"domain":["Ref","R","D","P"],"range":["#000000","#e6ab02","#66a61e","#e7298a"]}},
     "shape":{"field":"s","type":"nominal","scale":{"domain":["Ref","R","D","P"],"range":["M-6.5,-0.45H-3.5V0.45H-6.5Z M-2,-0.45H1V0.45H-2Z M2.5,-0.45H5.5V0.45H2.5Z","circle","circle","circle"]}}}},
   {"data":{"values":[{}]},"mark":{"type":"rule","color":"black","strokeWidth":2.2,"strokeDash":[7,4]},
    "encoding":{"x":{"datum":0,"type":"quantitative"},"y":{"datum":0,"type":"quantitative"},"x2":{"datum":292},"y2":{"datum":292}}}
  ]},
  {"layer":[
   {"data":{"values":[{}]},"mark":{"type":"rect","fill":"white","stroke":"black","strokeWidth":1.8},
    "encoding":{
     "x":{"datum":-51.3,"type":"quantitative","scale":{"domain":[-51.3,76.7],"range":[44,148],"nice":false,"zero":false},"axis":{"orient":"bottom","offset":-135,"values":[-50,0,50],"title":"Error (cycles)","labelFontSize":15,"titleFontSize":17.5,"titleFontWeight":"bold","tickSize":4,"labelPadding":1,"titlePadding":1,"zindex":1}},
     "x2":{"datum":76.7},
     "y":{"datum":0,"type":"quantitative","scale":{"domain":[0,79],"range":[74,10],"nice":false,"zero":false},"axis":{"orient":"left","offset":-44,"values":[0,50],"title":"Count","labelFontSize":15,"titleFontSize":17.5,"titleFontWeight":"bold","tickSize":4,"labelPadding":-3,"titlePadding":1,"zindex":1}},
     "y2":{"datum":79}}},
   {"data":{"name":"h4"},"mark":{"type":"rect","opacity":0.62},
    "encoding":{"x":{"field":"a","type":"quantitative"},"x2":{"field":"b"},"y":{"field":"c","type":"quantitative"},"y2":{"datum":0},"color":{"field":"s","type":"nominal","scale":{"domain":["Ref","R","D","P"],"range":["#000000","#e6ab02","#66a61e","#e7298a"]}}}}
  ]}
 ],
 "resolve":{"scale":{"x":"independent","y":"independent"}}},
{"title":"NCM_35_0.5","width":258,"height":209,
 "layer":[
  {"layer":[
   {"data":{"name":"s5"},"mark":{"type":"point","filled":true,"opacity":1,"size":36},
    "encoding":{
     "x":{"field":"x","type":"quantitative","scale":{"domain":[-32,608],"nice":false,"zero":false},"axis":{"values":[0,250,500],"title":"Observed RUL (cycles)"}},
     "y":{"field":"y","type":"quantitative","scale":{"domain":[-33,678],"nice":false,"zero":false},"axis":{"values":[0,200,400,600],"title":"Predicted RUL (cycles)"}},
     "color":{"field":"s","type":"nominal","scale":{"domain":["Ref","R","D","P"],"range":["#000000","#e6ab02","#66a61e","#e7298a"]}},
     "shape":{"field":"s","type":"nominal","scale":{"domain":["Ref","R","D","P"],"range":["M-6.5,-0.45H-3.5V0.45H-6.5Z M-2,-0.45H1V0.45H-2Z M2.5,-0.45H5.5V0.45H2.5Z","circle","circle","circle"]}}}},
   {"data":{"values":[{}]},"mark":{"type":"rule","color":"black","strokeWidth":2.2,"strokeDash":[7,4]},
    "encoding":{"x":{"datum":0,"type":"quantitative"},"y":{"datum":0,"type":"quantitative"},"x2":{"datum":580},"y2":{"datum":580}}}
  ]},
  {"layer":[
   {"data":{"values":[{}]},"mark":{"type":"rect","fill":"white","stroke":"black","strokeWidth":1.8},
    "encoding":{
     "x":{"datum":-21,"type":"quantitative","scale":{"domain":[-21,66],"range":[44,148],"nice":false,"zero":false},"axis":{"orient":"bottom","offset":-135,"values":[0,50],"title":"Error (cycles)","labelFontSize":15,"titleFontSize":17.5,"titleFontWeight":"bold","tickSize":4,"labelPadding":1,"titlePadding":1,"zindex":1}},
     "x2":{"datum":66},
     "y":{"datum":0,"type":"quantitative","scale":{"domain":[0,121.5],"range":[74,10],"nice":false,"zero":false},"axis":{"orient":"left","offset":-44,"values":[0,100],"title":"Count","labelFontSize":15,"titleFontSize":17.5,"titleFontWeight":"bold","tickSize":4,"labelPadding":-3,"titlePadding":1,"zindex":1}},
     "y2":{"datum":121.5}}},
   {"data":{"name":"h5"},"mark":{"type":"rect","opacity":0.62},
    "encoding":{"x":{"field":"a","type":"quantitative"},"x2":{"field":"b"},"y":{"field":"c","type":"quantitative"},"y2":{"datum":0},"color":{"field":"s","type":"nominal","scale":{"domain":["Ref","R","D","P"],"range":["#000000","#e6ab02","#66a61e","#e7298a"]}}}}
  ]}
 ],
 "resolve":{"scale":{"x":"independent","y":"independent"}}},
{"title":"NCM_45_0.5","width":258,"height":209,
 "layer":[
  {"layer":[
   {"data":{"name":"s6"},"mark":{"type":"point","filled":true,"opacity":1,"size":36},
    "encoding":{
     "x":{"field":"x","type":"quantitative","scale":{"domain":[-20,425],"nice":false,"zero":false},"axis":{"values":[0,200,400],"title":"Observed RUL (cycles)"}},
     "y":{"field":"y","type":"quantitative","scale":{"domain":[-22,451],"nice":false,"zero":false},"axis":{"values":[0,200,400],"title":null}},
     "color":{"field":"s","type":"nominal","scale":{"domain":["Ref","R","D","P"],"range":["#000000","#e6ab02","#66a61e","#e7298a"]}},
     "shape":{"field":"s","type":"nominal","scale":{"domain":["Ref","R","D","P"],"range":["M-6.5,-0.45H-3.5V0.45H-6.5Z M-2,-0.45H1V0.45H-2Z M2.5,-0.45H5.5V0.45H2.5Z","circle","circle","circle"]}}}},
   {"data":{"values":[{}]},"mark":{"type":"rule","color":"black","strokeWidth":2.2,"strokeDash":[7,4]},
    "encoding":{"x":{"datum":0,"type":"quantitative"},"y":{"datum":0,"type":"quantitative"},"x2":{"datum":400},"y2":{"datum":400}}}
  ]},
  {"layer":[
   {"data":{"values":[{}]},"mark":{"type":"rect","fill":"white","stroke":"black","strokeWidth":1.8},
    "encoding":{
     "x":{"datum":-48.7,"type":"quantitative","scale":{"domain":[-48.7,52],"range":[44,148],"nice":false,"zero":false},"axis":{"orient":"bottom","offset":-135,"values":[-25,0,25],"title":"Error (cycles)","labelFontSize":15,"titleFontSize":17.5,"titleFontWeight":"bold","tickSize":4,"labelPadding":1,"titlePadding":1,"zindex":1}},
     "x2":{"datum":52},
     "y":{"datum":0,"type":"quantitative","scale":{"domain":[0,144],"range":[74,10],"nice":false,"zero":false},"axis":{"orient":"left","offset":-44,"values":[0,100],"title":"Count","labelFontSize":15,"titleFontSize":17.5,"titleFontWeight":"bold","tickSize":4,"labelPadding":-3,"titlePadding":1,"zindex":1}},
     "y2":{"datum":144}}},
   {"data":{"name":"h6"},"mark":{"type":"rect","opacity":0.62},
    "encoding":{"x":{"field":"a","type":"quantitative"},"x2":{"field":"b"},"y":{"field":"c","type":"quantitative"},"y2":{"datum":0},"color":{"field":"s","type":"nominal","scale":{"domain":["Ref","R","D","P"],"range":["#000000","#e6ab02","#66a61e","#e7298a"]}}}}
  ]}
 ],
 "resolve":{"scale":{"x":"independent","y":"independent"}}},
{"title":"NCA&NCM_25_0.5","width":258,"height":209,
 "layer":[
  {"layer":[
   {"data":{"name":"s7"},"mark":{"type":"point","filled":true,"opacity":1,"size":36},
    "encoding":{
     "x":{"field":"x","type":"quantitative","scale":{"domain":[-13.5,305.6],"nice":false,"zero":false},"axis":{"values":[0,200],"title":"Observed RUL (cycles)"}},
     "y":{"field":"y","type":"quantitative","scale":{"domain":[-15.3,313],"nice":false,"zero":false},"axis":{"values":[0,100,200,300],"title":null}},
     "color":{"field":"s","type":"nominal","scale":{"domain":["Ref","R","D","P"],"range":["#000000","#e6ab02","#66a61e","#e7298a"]}},
     "shape":{"field":"s","type":"nominal","scale":{"domain":["Ref","R","D","P"],"range":["M-6.5,-0.45H-3.5V0.45H-6.5Z M-2,-0.45H1V0.45H-2Z M2.5,-0.45H5.5V0.45H2.5Z","circle","circle","circle"]}}}},
   {"data":{"values":[{}]},"mark":{"type":"rule","color":"black","strokeWidth":2.2,"strokeDash":[7,4]},
    "encoding":{"x":{"datum":0,"type":"quantitative"},"y":{"datum":0,"type":"quantitative"},"x2":{"datum":295},"y2":{"datum":295}}}
  ]},
  {"layer":[
   {"data":{"values":[{}]},"mark":{"type":"rect","fill":"white","stroke":"black","strokeWidth":1.8},
    "encoding":{
     "x":{"datum":-12.3,"type":"quantitative","scale":{"domain":[-12.3,19.1],"range":[44,148],"nice":false,"zero":false},"axis":{"orient":"bottom","offset":-135,"values":[-10,0,10],"title":"Error (cycles)","labelFontSize":15,"titleFontSize":17.5,"titleFontWeight":"bold","tickSize":4,"labelPadding":1,"titlePadding":1,"zindex":1}},
     "x2":{"datum":19.1},
     "y":{"datum":0,"type":"quantitative","scale":{"domain":[0,52],"range":[74,10],"nice":false,"zero":false},"axis":{"orient":"left","offset":-44,"values":[0,50],"title":"Count","labelFontSize":15,"titleFontSize":17.5,"titleFontWeight":"bold","tickSize":4,"labelPadding":-3,"titlePadding":1,"zindex":1}},
     "y2":{"datum":52}}},
   {"data":{"name":"h7"},"mark":{"type":"rect","opacity":0.62},
    "encoding":{"x":{"field":"a","type":"quantitative"},"x2":{"field":"b"},"y":{"field":"c","type":"quantitative"},"y2":{"datum":0},"color":{"field":"s","type":"nominal","scale":{"domain":["Ref","R","D","P"],"range":["#000000","#e6ab02","#66a61e","#e7298a"]}}}}
  ]}
 ],
 "resolve":{"scale":{"x":"independent","y":"independent"}}}
]
}
